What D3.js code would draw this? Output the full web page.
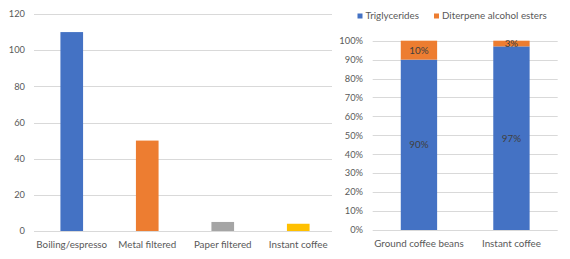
<!DOCTYPE html>
<html>
<head>
<meta charset="utf-8">
<script src="https://cdn.jsdelivr.net/npm/d3@7"></script>
<style>
  body { margin: 0; background: #fff; }
  text { font-family: Lato, "Open Sans", sans-serif; fill: #595959; }
</style>
</head>
<body>
<svg id="chart" width="570" height="259"></svg>
<script>
// left chart data
var methods = ["Boiling/espresso", "Metal filtered", "Paper filtered", "Instant coffee"];
var methodValues = [110, 50, 5, 4];
var methodColors = ["#4472C4", "#ED7D31", "#A5A5A5", "#FFC000"];
var leftTicks = [0, 20, 40, 60, 80, 100, 120];

// right chart data
var products = ["Ground coffee beans", "Instant coffee"];
var triglycerides = [90, 97];
var diterpeneEsters = [10, 3];
var seriesNames = ["Triglycerides", "Diterpene alcohol esters"];
var seriesColors = ["#4472C4", "#ED7D31"];
var rightTicks = [0, 10, 20, 30, 40, 50, 60, 70, 80, 90, 100];

var svg = d3.select("#chart");
var fontSize = 9.8;
var tickSize = 9.3;

// ---- left chart ----
var left = svg.append("g");
var x1 = d3.scaleBand().domain(methods).range([34, 336]).padding(0);
var y1 = d3.scaleLinear().domain([0, 120]).range([231, 14]);

left.selectAll("line.grid")
    .data(leftTicks)
    .enter()
    .append("line")
    .attr("x1", 34)
    .attr("x2", 332)
    .attr("y1", function(d) { return Math.round(y1(d)) + 0.5; })
    .attr("y2", function(d) { return Math.round(y1(d)) + 0.5; })
    .style("stroke", "#D9D9D9")
    .style("stroke-width", 1);

left.selectAll("text.ytick")
    .data(leftTicks)
    .enter()
    .append("text")
    .attr("x", 25)
    .attr("y", function(d) { return y1(d); })
    .attr("dy", "0.35em")
    .attr("text-anchor", "end")
    .style("font-size", tickSize + "px")
    .text(function(d) { return d; });

var bw1 = x1.bandwidth() * 0.3;
left.selectAll("rect")
    .data(methodValues)
    .enter()
    .append("rect")
    .attr("x", function(d, i) { return x1(methods[i]) + x1.bandwidth() / 2 - bw1 / 2; })
    .attr("y", function(d) { return y1(d); })
    .attr("width", bw1)
    .attr("height", function(d) { return y1(0) - y1(d); })
    .style("fill", function(d, i) { return methodColors[i]; });

left.selectAll("text.xlab")
    .data(methods)
    .enter()
    .append("text")
    .attr("x", function(d) { return x1(d) + x1.bandwidth() / 2; })
    .attr("y", 245)
    .attr("dy", "0.35em")
    .attr("text-anchor", "middle")
    .style("font-size", fontSize + "px")
    .text(function(d) { return d; });

// ---- right chart ----
var right = svg.append("g");
var x2 = d3.scaleBand().domain(products).range([372.7, 557.7]).padding(0);
var y2 = d3.scaleLinear().domain([0, 100]).range([230, 40.7]);

right.selectAll("line.grid")
    .data(rightTicks)
    .enter()
    .append("line")
    .attr("x1", 372.7)
    .attr("x2", 557.7)
    .attr("y1", function(d) { return Math.round(y2(d)) + 0.5; })
    .attr("y2", function(d) { return Math.round(y2(d)) + 0.5; })
    .style("stroke", "#D9D9D9")
    .style("stroke-width", 1);

right.selectAll("text.ytick")
    .data(rightTicks)
    .enter()
    .append("text")
    .attr("x", 363)
    .attr("y", function(d) { return y2(d); })
    .attr("dy", "0.35em")
    .attr("text-anchor", "end")
    .style("font-size", tickSize + "px")
    .text(function(d) { return d + "%"; });

var stacked = d3.stack().keys([0, 1])(products.map(function(p, i) {
    return [triglycerides[i], diterpeneEsters[i]];
}));
var bw2 = x2.bandwidth() * 0.393;

stacked.forEach(function(layer, k) {
    var g = right.append("g");
    g.selectAll("rect")
        .data(layer)
        .enter()
        .append("rect")
        .attr("x", function(d, i) { return x2(products[i]) + x2.bandwidth() / 2 - bw2 / 2; })
        .attr("y", function(d) { return y2(d[1]); })
        .attr("width", bw2)
        .attr("height", function(d) { return y2(d[0]) - y2(d[1]); })
        .style("fill", seriesColors[k]);
    g.selectAll("text")
        .data(layer)
        .enter()
        .append("text")
        .attr("x", function(d, i) { return x2(products[i]) + x2.bandwidth() / 2; })
        .attr("y", function(d) { return (y2(d[0]) + y2(d[1])) / 2; })
        .attr("dy", "0.35em")
        .attr("text-anchor", "middle")
        .style("font-size", fontSize + "px")
        .style("fill", "#404040")
        .text(function(d) { return (d[1] - d[0]) + "%"; });
});

right.selectAll("text.xlab")
    .data(products)
    .enter()
    .append("text")
    .attr("x", function(d) { return x2(d) + x2.bandwidth() / 2; })
    .attr("y", 244)
    .attr("dy", "0.35em")
    .attr("text-anchor", "middle")
    .style("font-size", fontSize + "px")
    .text(function(d) { return d; });

// legend
var legendX = [357.5, 434];
var legend = right.selectAll("g.legend")
    .data(seriesNames)
    .enter()
    .append("g")
    .attr("transform", function(d, i) { return "translate(" + legendX[i] + ",16)"; });
legend.append("rect")
    .attr("x", 0)
    .attr("y", -2.5)
    .attr("width", 5)
    .attr("height", 5)
    .style("fill", function(d, i) { return seriesColors[i]; });
legend.append("text")
    .attr("x", 8)
    .attr("y", 0)
    .attr("dy", "0.35em")
    .style("font-size", fontSize + "px")
    .text(function(d) { return d; });
</script>
</body>
</html>
